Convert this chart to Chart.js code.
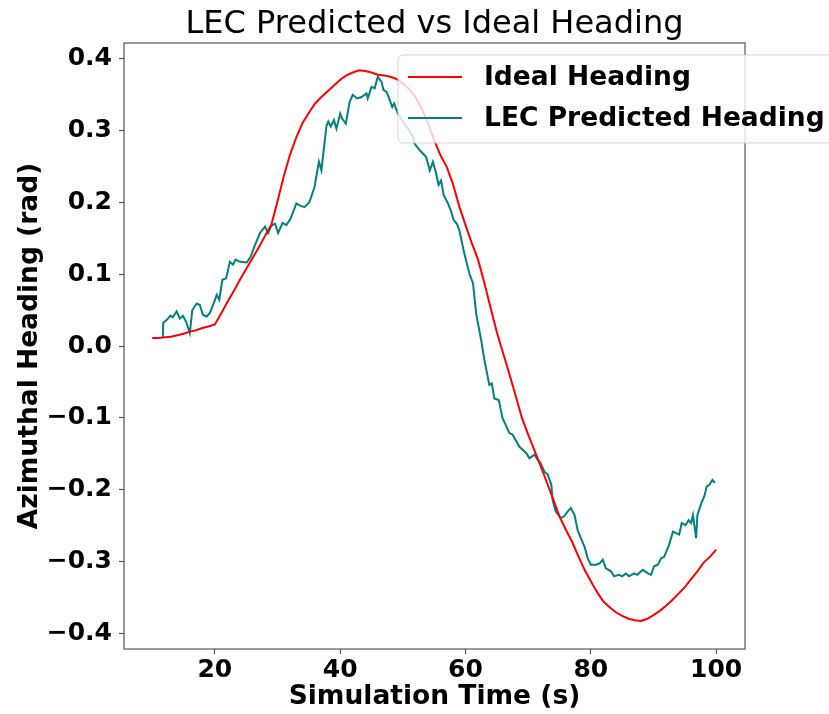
<!DOCTYPE html>
<html>
<head>
<meta charset="utf-8">
<script src="https://cdn.jsdelivr.net/npm/chart.js@4.4.1/dist/chart.umd.min.js"></script>
<style>
html,body{margin:0;padding:0;background:#fff;}
canvas{display:block;}
</style>
</head>
<body>
<canvas id="c" width="829" height="714" style="width:829px;height:714px"></canvas>
<script>
const chartTitle = "LEC Predicted vs Ideal Heading";
const xTitle = "Simulation Time (s)";
const yTitle = "Azimuthal Heading (rad)";
const seriesNames = ["Ideal Heading", "LEC Predicted Heading"];

const timeIdeal = [10,11,12,13,14,15,16,17,18,19,20,21,22,23,24,25,26,27,28,29,30,31,32,33,34,35,36,37,38,39,40,41,42,43,44,45,46,47,48,49,50,51,52,53,54,55,56,57,58,59,60,61,62,63,64,65,66,67,68,69,70,71,72,73,74,75,76,77,78,79,80,81,82,83,84,85,86,87,88,89,90,91,92,93,94,95,96,97,98,99,100];
const idealHeading = [0.011,0.011,0.012,0.013,0.015,0.017,0.020,0.022,0.025,0.027,0.030,0.045,0.061,0.076,0.092,0.107,0.122,0.137,0.153,0.168,0.201,0.236,0.266,0.290,0.310,0.324,0.337,0.346,0.354,0.362,0.370,0.376,0.380,0.383,0.382,0.380,0.377,0.376,0.374,0.371,0.365,0.357,0.346,0.330,0.310,0.286,0.265,0.249,0.225,0.194,0.168,0.143,0.120,0.088,0.053,0.019,-0.010,-0.039,-0.069,-0.100,-0.123,-0.145,-0.167,-0.190,-0.213,-0.237,-0.255,-0.272,-0.292,-0.311,-0.327,-0.342,-0.355,-0.363,-0.370,-0.375,-0.379,-0.381,-0.382,-0.379,-0.374,-0.368,-0.361,-0.353,-0.344,-0.335,-0.324,-0.313,-0.301,-0.293,-0.283];

const timeLec = [11.7,11.75,12.3,12.9,13.3,13.9,14.4,14.9,15.4,16.0,16.4,17.1,17.6,18.1,18.7,19.2,19.8,20.3,20.7,21.2,21.8,22.4,22.9,23.3,24.0,25.1,25.7,26.4,27.2,28.0,28.5,29.0,29.6,30.1,30.8,31.4,32.1,33.0,33.6,34.3,35.1,35.9,36.6,37.0,37.8,38.1,38.5,39.0,39.4,40.0,40.3,40.9,41.5,42.0,42.7,43.4,44.2,44.4,45.0,45.5,46.0,46.6,46.9,47.4,47.9,48.3,48.6,49.2,50.0,50.8,51.6,51.9,52.7,53.7,54.3,54.8,55.3,55.7,56.1,56.5,57.2,57.7,58.1,58.6,59.0,59.8,60.6,61.2,61.7,62.5,63.0,63.8,64.2,64.6,65.3,65.9,67.0,67.5,68.6,69.7,70.2,71.0,71.5,72.0,72.6,73.1,73.7,73.9,74.4,75.2,75.7,76.3,76.8,77.4,77.9,78.4,79.0,79.5,80.0,80.8,81.4,81.9,82.4,83.2,83.7,84.5,85.0,85.6,86.1,86.9,87.4,88.3,89.1,89.6,90.1,90.7,91.2,91.7,92.5,93.1,93.6,94.1,94.5,95.1,95.6,96.0,96.3,96.8,97.0,97.6,98.1,98.5,98.9,99.4,99.8];
const lecHeading = [0.011,0.032,0.036,0.042,0.040,0.048,0.038,0.042,0.034,0.018,0.050,0.059,0.057,0.043,0.041,0.046,0.059,0.071,0.064,0.092,0.094,0.117,0.113,0.120,0.117,0.116,0.124,0.140,0.157,0.166,0.157,0.167,0.170,0.157,0.171,0.168,0.177,0.198,0.195,0.193,0.200,0.221,0.256,0.244,0.305,0.312,0.305,0.314,0.302,0.323,0.316,0.309,0.339,0.349,0.344,0.346,0.351,0.344,0.360,0.358,0.374,0.367,0.356,0.353,0.342,0.332,0.337,0.323,0.312,0.302,0.291,0.281,0.272,0.263,0.244,0.256,0.240,0.224,0.230,0.210,0.198,0.187,0.175,0.170,0.161,0.129,0.101,0.087,0.045,0.008,-0.019,-0.054,-0.052,-0.073,-0.075,-0.100,-0.121,-0.123,-0.140,-0.149,-0.156,-0.151,-0.158,-0.163,-0.175,-0.178,-0.193,-0.214,-0.230,-0.239,-0.237,-0.230,-0.225,-0.235,-0.256,-0.267,-0.279,-0.295,-0.304,-0.304,-0.302,-0.297,-0.309,-0.313,-0.320,-0.318,-0.320,-0.316,-0.320,-0.316,-0.318,-0.311,-0.316,-0.318,-0.306,-0.304,-0.295,-0.293,-0.276,-0.258,-0.260,-0.262,-0.246,-0.249,-0.242,-0.246,-0.235,-0.267,-0.235,-0.219,-0.209,-0.195,-0.193,-0.186,-0.190];

const FONT = "'DejaVu Sans', sans-serif";
const AXIS_COLOR = '#555555';
const TICK_SIZE = 25;
const LABEL_SIZE = 26.5;

function toPoints(xs, ys){ return xs.map((x,i)=>({x:x, y:ys[i]})); }
function fmtY(v){ const s = Math.abs(v) < 1e-9 ? '0.0' : v.toFixed(1); return s.replace('-', '\u2212'); }

const frameAndLegend = {
  id: 'frameAndLegend',
  afterDraw(chart){
    const ctx = chart.ctx;
    const a = chart.chartArea;
    ctx.save();
    // spines
    ctx.strokeStyle = AXIS_COLOR;
    ctx.lineWidth = 1.2;
    ctx.strokeRect(a.left, a.top, a.right - a.left, a.bottom - a.top);
    // title
    ctx.fillStyle = '#000';
    ctx.font = "32px " + FONT;
    ctx.textAlign = 'center';
    ctx.textBaseline = 'middle';
    ctx.fillText(chartTitle, (a.left + a.right)/2, 25);
    // legend
    const bx = 398, by = 55, bw = 470, bh = 88, r = 5;
    ctx.beginPath();
    ctx.moveTo(bx + r, by);
    ctx.lineTo(bx + bw - r, by);
    ctx.arcTo(bx + bw, by, bx + bw, by + r, r);
    ctx.lineTo(bx + bw, by + bh - r);
    ctx.arcTo(bx + bw, by + bh, bx + bw - r, by + bh, r);
    ctx.lineTo(bx + r, by + bh);
    ctx.arcTo(bx, by + bh, bx, by + bh - r, r);
    ctx.lineTo(bx, by + r);
    ctx.arcTo(bx, by, bx + r, by, r);
    ctx.closePath();
    ctx.fillStyle = 'rgba(255,255,255,0.8)';
    ctx.fill();
    ctx.strokeStyle = 'rgba(204,204,204,0.8)';
    ctx.lineWidth = 1;
    ctx.stroke();
    const rows = [77, 118];
    chart.data.datasets.forEach((ds, i) => {
      const y = rows[i];
      ctx.strokeStyle = ds.borderColor;
      ctx.lineWidth = ds.borderWidth;
      ctx.beginPath();
      ctx.moveTo(408, y);
      ctx.lineTo(462, y);
      ctx.stroke();
      ctx.fillStyle = '#000';
      ctx.font = "bold " + LABEL_SIZE + "px " + FONT;
      ctx.textAlign = 'left';
      ctx.textBaseline = 'middle';
      ctx.fillText(ds.label, 484, y + 1);
    });
    ctx.restore();
  }
};

new Chart(document.getElementById('c'), {
  type: 'line',
  data: {
    datasets: [
      { label: seriesNames[0], data: toPoints(timeIdeal, idealHeading), borderColor: '#ff0000', borderWidth: 2, pointRadius: 0, tension: 0, fill: false },
      { label: seriesNames[1], data: toPoints(timeLec, lecHeading), borderColor: '#008080', borderWidth: 2, pointRadius: 0, tension: 0, fill: false }
    ]
  },
  options: {
    responsive: false,
    animation: false,
    layout: { padding: { left: 0, top: 43, right: 84, bottom: 0 } },
    plugins: { legend: { display: false }, title: { display: false }, tooltip: { enabled: false } },
    scales: {
      x: {
        type: 'linear',
        min: 5.5, max: 104.6,
        afterFit(scale){ scale.height = 65; },
        border: { display: false },
        grid: { display: true, drawOnChartArea: false, drawTicks: true, tickLength: 5, color: AXIS_COLOR, tickWidth: 1.2 },
        ticks: { stepSize: 20, includeBounds: false, autoSkip: false, maxRotation: 0, padding: 1, color: '#000', font: { family: FONT, size: TICK_SIZE, weight: 'bold' } },
        title: { display: true, text: xTitle, color: '#000', font: { family: FONT, size: LABEL_SIZE, weight: 'bold' }, padding: { top: 0, bottom: 1 } }
      },
      y: {
        type: 'linear',
        min: -0.421, max: 0.421,
        afterFit(scale){ scale.width = 124; },
        border: { display: false },
        grid: { display: true, drawOnChartArea: false, drawTicks: true, tickLength: 5, color: AXIS_COLOR, tickWidth: 1.2 },
        ticks: { stepSize: 0.1, includeBounds: false, autoSkip: false, padding: 7, color: '#000', font: { family: FONT, size: TICK_SIZE, weight: 'bold' }, callback: (v) => fmtY(v) },
        title: { display: true, text: yTitle, color: '#000', font: { family: FONT, size: LABEL_SIZE, weight: 'bold' }, padding: { top: 14, bottom: 0 } }
      }
    }
  },
  plugins: [frameAndLegend]
});
</script>
</body>
</html>
